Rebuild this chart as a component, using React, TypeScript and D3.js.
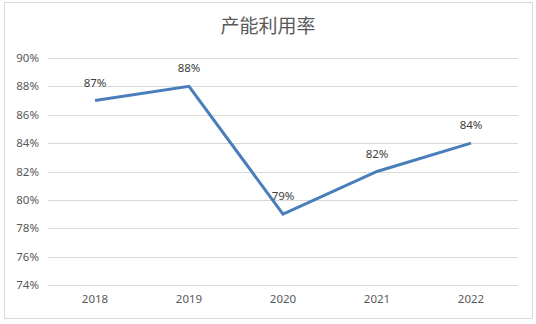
import React from "react";
import * as d3 from "d3";

const categories = ["2018", "2019", "2020", "2021", "2022"];
const values = [0.87, 0.88, 0.79, 0.82, 0.84];
const yTicks = [0.74, 0.76, 0.78, 0.8, 0.82, 0.84, 0.86, 0.88, 0.9];
const title = "产能利用率";

export default function App() {
  const W = 536, H = 324;
  const x = d3.scaleBand().domain(categories).range([48, 518]);
  const y = d3.scaleLinear().domain([0.74, 0.9]).range([285, 58]);
  const line = d3
    .line<number>()
    .x((_, i) => (x(categories[i]) as number) + x.bandwidth() / 2)
    .y((d) => y(d));
  const fmt = d3.format(".0%");
  const txt = "#595959";
  return (
    <svg width={W} height={H} style={{ position: "absolute", left: 0, top: 0 }}>
      <rect x={0} y={0} width={W} height={H} fill="#fff" />
      <rect x={4.5} y={2.5} width={528} height={316} fill="#fff" stroke="#d9d9d9" />
      <text x={268} y={33} textAnchor="middle" fontSize={19} fill={txt} fontFamily="'Noto Sans CJK SC', sans-serif">
        {title}
      </text>
      {yTicks.map((t) => (
        <g key={t}>
          <line x1={48} x2={518} y1={Math.round(y(t)) + 0.5} y2={Math.round(y(t)) + 0.5} stroke="#d9d9d9" strokeWidth={1} />
          <text x={39} y={y(t) + 4} textAnchor="end" fontSize={11.5} fill={txt} fontFamily="'Noto Sans', sans-serif">
            {fmt(t)}
          </text>
        </g>
      ))}
      {categories.map((c) => (
        <text key={c} x={(x(c) as number) + x.bandwidth() / 2} y={303} textAnchor="middle" fontSize={11.5} fill={txt} fontFamily="'Noto Sans', sans-serif">
          {c}
        </text>
      ))}
      <path d={line(values) || ""} fill="none" stroke="#4a7ebb" strokeWidth={3} strokeLinejoin="miter" />
      {values.map((v, i) => (
        <text key={i} x={(x(categories[i]) as number) + x.bandwidth() / 2} y={y(v) - 14} textAnchor="middle" fontSize={11.5} fill="#404040" fontFamily="'Noto Sans', sans-serif">
          {fmt(v)}
        </text>
      ))}
    </svg>
  );
}
